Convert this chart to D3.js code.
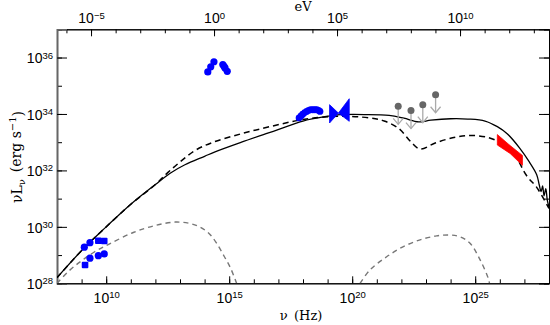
<!DOCTYPE html>
<html><head><meta charset="utf-8">
<script src="https://cdn.jsdelivr.net/npm/d3@7"></script>
<style>body{margin:0;background:#fff}svg{display:block}</style>
</head><body>
<svg id="c" width="550" height="325"></svg>
<script>
// ---- data (log10 values) ----
const radioUpperLogNu = [9.11, 9.34, 9.68, 9.92];
const radioUpperLogL  = [29.28, 29.44, 29.51, 29.50];
const radioUpperShape = ["circle","circle","square","square"];
const radioLowerLogNu = [9.14, 9.34, 9.68, 9.92];
const radioLowerLogL  = [28.65, 28.89, 28.98, 29.04];
const radioLowerShape = ["square","circle","circle","circle"];

const opticalLogNu = [14.13, 14.25, 14.38, 14.74, 14.79, 14.83, 14.92];
const opticalLogL  = [35.49, 35.67, 35.85, 35.75, 35.69, 35.63, 35.51];

const xrayLogNu = [17.84,17.92,17.99,18.07,18.15,18.23,18.31,18.40,18.48,18.56,18.63,18.69];
const xrayLogL  = [33.86,33.93,33.99,34.05,34.09,34.13,34.15,34.15,34.15,34.15,34.13,34.09];

const hxBowLogNu   = [19.08, 19.44, 19.88];
const hxBowUpperL  = [34.33, 34.03, 34.54];
const hxBowLowerL  = [33.68, 34.03, 33.74];

const tevBowLogNu  = [25.90, 26.42, 26.92];
const tevBowUpperL = [33.27, 32.88, 32.53];
const tevBowLowerL = [32.90, 32.60, 32.18];

const ulLogNu = [21.87, 22.39, 22.87, 23.39];
const ulLogL  = [34.27, 34.12, 34.33, 34.68];

const solidLogNu = [8.0,9.1,10.0,11.0,12.0,12.6,13.2,14.0,14.4,15.5,16.5,17.07,18.0,19.0,19.4,20.5,21.5,22.1,22.7,23.2,24.0,24.7,25.4,25.9,26.3,26.8,27.2,27.5,27.6,27.68,27.74,27.8,27.87,27.93,28.0];
const solidLogL  = [28.2,29.25,30.0,30.8,31.5,31.9,32.2,32.5,32.65,33.0,33.3,33.47,33.75,33.92,33.97,33.98,33.95,33.85,33.72,33.78,33.83,33.82,33.75,33.55,33.3,32.8,32.3,31.85,31.5,31.25,31.45,31.1,31.35,30.95,30.7];

const dashLogNu = [8.0,9.1,10.0,11.0,12.0,12.5,13.0,13.6,14.35,15.5,16.7,18.0,19.4,20.7,21.3,21.9,22.4,22.76,23.4,24.2,24.8,25.5,26.1,26.6,27.1,27.5,28.0];
const dashLogL  = [28.2,29.25,30.0,30.8,31.5,31.92,32.3,32.7,33.0,33.3,33.56,33.8,33.92,33.86,33.75,33.48,33.0,32.76,32.98,33.18,33.24,33.17,32.95,32.55,31.8,31.4,30.65];

const synLogNu = [8.0,8.5,9.0,9.5,10.1,11.1,12.0,12.8,13.4,13.8,14.2,14.5,14.8,15.05,15.3];
const synLogL  = [28.0,28.45,28.8,29.1,29.38,29.8,30.05,30.17,30.12,30.0,29.75,29.4,28.95,28.55,28.0];

const icLogNu = [20.32,20.72,21.4,22.08,22.76,23.43,23.98,24.38,24.79,25.2,25.53,25.58];
const icLogL  = [28.0,28.47,28.94,29.3,29.54,29.68,29.71,29.65,29.42,28.83,28.18,28.0];

const xTickMajor = [10,15,20,25];
const yTickMajor = [28,30,32,34,36];
const eVTickMajor = [-5,0,5,10];
const HZ_PER_EV = 2.418e14;

// ---- layout ----
const L = 57, R = 549, T = 29.3, B = 283.3;
const svg = d3.select("#c");
const x = d3.scaleLog().domain([1e8,1e28]).range([L,R]);
const y = d3.scaleLog().domain([1e28,1e37]).range([B,T]);
const xe = d3.scaleLog().domain([1e8/HZ_PER_EV, 1e28/HZ_PER_EV]).range([L,R]);
const p10 = v => Math.pow(10,v);

svg.append("defs").append("clipPath").attr("id","clip")
  .append("rect").attr("x",L).attr("y",T).attr("width",R-L).attr("height",B-T);

const tickFont = "'Liberation Sans', Arial, sans-serif";
const serif = "'DejaVu Serif', 'Liberation Serif', serif";

function supLabel(sel){
  sel.each(function(d){
    const t = d3.select(this);
    const e = Math.round(Math.log10(d));
    t.text(null);
    t.append("tspan").text("10");
    t.append("tspan").attr("dy","-0.5em").attr("font-size","9.5px").text(e<0? "\u2212"+(-e) : e);
  });
}
function decades(a,b){ const r=[]; for(let i=a;i<=b;i++) r.push(p10(i)); return r; }

// bottom axis
const gb = svg.append("g").attr("transform",`translate(0,${B})`);
gb.call(d3.axisBottom(x).tickValues(decades(8,28)).tickSize(-4).tickFormat(""));
gb.append("g").call(d3.axisBottom(x).tickValues(xTickMajor.map(p10)).tickSize(-7).tickPadding(10))
  .selectAll(".tick text").call(supLabel);
// top axis (eV)
const gt = svg.append("g").attr("transform",`translate(0,${T})`);
gt.call(d3.axisTop(xe).tickValues(decades(-6,13)).tickSize(-4).tickFormat(""));
gt.append("g").call(d3.axisTop(xe).tickValues(eVTickMajor.map(p10)).tickSize(-7).tickPadding(6))
  .selectAll(".tick text").call(supLabel);
// left axis
const gl = svg.append("g").attr("transform",`translate(${L},0)`);
gl.call(d3.axisLeft(y).tickValues(decades(28,37)).tickSize(-5).tickFormat(""));
gl.append("g").call(d3.axisLeft(y).tickValues(yTickMajor.map(p10)).tickSize(-10).tickPadding(4))
  .selectAll(".tick text").attr("dy","0.38em").call(supLabel);
// right axis
const gr = svg.append("g").attr("transform",`translate(${R},0)`);
gr.call(d3.axisRight(y).tickValues(decades(28,37)).tickSize(-5).tickFormat(""));
gr.append("g").call(d3.axisRight(y).tickValues(yTickMajor.map(p10)).tickSize(-10).tickFormat(""));

svg.selectAll(".domain").attr("stroke","#000").attr("stroke-width",1);
svg.selectAll(".tick line").attr("stroke","#000");
svg.selectAll(".tick text").attr("font-family",tickFont).attr("font-size","14px").attr("fill","#000");
gl.selectAll(".domain").attr("stroke","#666").attr("stroke-width",1.6);

// axis titles
svg.append("text").attr("x",301).attr("y",320).attr("text-anchor","middle")
  .attr("font-family",serif).attr("font-size","13px").text("\u03bd\u2002(Hz)");
svg.append("text").attr("x",303).attr("y",10.5).attr("text-anchor","middle")
  .attr("font-family",serif).attr("font-size","13px").text("eV");
const yt = svg.append("text").attr("text-anchor","start")
  .attr("font-family",serif).attr("font-size","14px");
yt.append("tspan").text("\u03bdL");
yt.append("tspan").attr("dy","0.3em").attr("font-size","10px").text("\u03bd");
yt.append("tspan").attr("dy","-0.3em").text("\u2002(erg s");
yt.append("tspan").attr("dy","-0.45em").attr("font-size","10px").text("\u22121");
yt.append("tspan").attr("dy","0.45em").text(")");
const ytw = yt.node().getComputedTextLength();
yt.attr("transform",`translate(22,${157 + ytw/2}) rotate(-90)`);

// ---- curves ----
const plot = svg.append("g").attr("clip-path","url(#clip)");
const line = d3.line().x(d=>x(p10(d[0]))).y(d=>y(p10(d[1]))).curve(d3.curveCatmullRom.alpha(0.5));
const zip = (a,b)=>a.map((v,i)=>[v,b[i]]);

plot.append("path").attr("d",line(zip(synLogNu,synLogL))).attr("fill","none")
  .attr("stroke","#777").attr("stroke-width",1.4).attr("stroke-dasharray","5,4");
plot.append("path").attr("d",line(zip(icLogNu,icLogL))).attr("fill","none")
  .attr("stroke","#777").attr("stroke-width",1.4).attr("stroke-dasharray","5,4");
plot.append("path").attr("d",line(zip(dashLogNu,dashLogL))).attr("fill","none")
  .attr("stroke","#000").attr("stroke-width",1.5).attr("stroke-dasharray","6,4");
plot.append("path").attr("d",line(zip(solidLogNu,solidLogL))).attr("fill","none")
  .attr("stroke","#000").attr("stroke-width",1.3);

// ---- data points ----
const blue = "#0000ff";
function radio(nus, ls, shapes){
  nus.forEach((n,i)=>{
    const cx = x(p10(n)), cy = y(p10(ls[i]));
    if(shapes[i]==="square") plot.append("rect").attr("x",cx-3.3).attr("y",cy-3.3).attr("width",6.6).attr("height",6.6).attr("rx",1).attr("fill",blue);
    else plot.append("circle").attr("cx",cx).attr("cy",cy).attr("r",3.6).attr("fill",blue);
  });
}
radio(radioUpperLogNu, radioUpperLogL, radioUpperShape);
radio(radioLowerLogNu, radioLowerLogL, radioLowerShape);

plot.selectAll(".opt").data(zip(opticalLogNu,opticalLogL)).enter().append("circle")
  .attr("cx",d=>x(p10(d[0]))).attr("cy",d=>y(p10(d[1]))).attr("r",3.6).attr("fill",blue);
plot.selectAll(".xr").data(zip(xrayLogNu,xrayLogL)).enter().append("circle")
  .attr("cx",d=>x(p10(d[0]))).attr("cy",d=>y(p10(d[1]))).attr("r",3.4).attr("fill",blue);

function bowtie(nu, up, lo, color){
  const pts = nu.map((n,i)=>[x(p10(n)), y(p10(up[i]))])
    .concat(nu.map((n,i)=>[x(p10(n)), y(p10(lo[i]))]).reverse());
  plot.append("polygon").attr("points",pts.map(p=>p.join(",")).join(" ")).attr("fill",color).attr("stroke",color).attr("stroke-width",0.8);
}
bowtie(hxBowLogNu, hxBowUpperL, hxBowLowerL, blue);
bowtie(tevBowLogNu, tevBowUpperL, tevBowLowerL, "#ff0000");

// upper limits
ulLogNu.forEach((n,i)=>{
  const cx = x(p10(n)), cy = y(p10(ulLogL[i]));
  const tip = cy + 18;
  plot.append("line").attr("x1",cx).attr("x2",cx).attr("y1",cy).attr("y2",tip).attr("stroke","#aaa").attr("stroke-width",1.3);
  plot.append("path").attr("d",`M${cx-5},${tip-6}L${cx},${tip}L${cx+5},${tip-6}`).attr("fill","none").attr("stroke","#aaa").attr("stroke-width",1.3);
  plot.append("circle").attr("cx",cx).attr("cy",cy).attr("r",3.5).attr("fill","#666");
});
</script>
</body></html>
